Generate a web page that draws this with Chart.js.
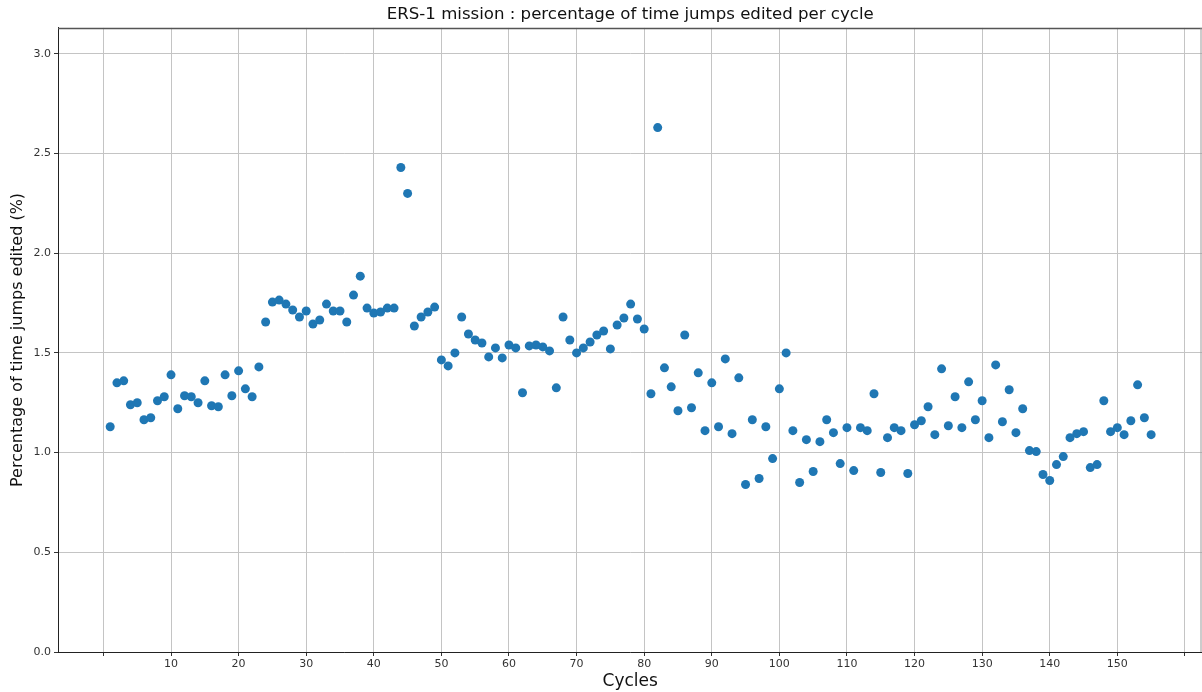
<!DOCTYPE html>
<html>
<head>
<meta charset="utf-8">
<script src="https://cdn.jsdelivr.net/npm/chart.js@4.4.1/dist/chart.umd.min.js"></script>
<style>
  html, body { margin: 0; padding: 0; background: #fff; overflow: hidden; }
  #wrap { width: 1207px; height: 692px; position: relative; }
</style>
</head>
<body>
<div id="wrap"><canvas id="chart"></canvas></div>
<script>
const cycles = [
  1, 2, 3, 4, 5, 6, 7, 8, 9, 10, 11, 12, 13, 14, 15, 16, 17, 18, 19, 20,
  21, 22, 23, 24, 25, 26, 27, 28, 29, 30, 31, 32, 33, 34, 35, 36, 37, 38, 39, 40,
  41, 42, 43, 44, 45, 46, 47, 48, 49, 50, 51, 52, 53, 54, 55, 56, 57, 58, 59, 60,
  61, 62, 63, 64, 65, 66, 67, 68, 69, 70, 71, 72, 73, 74, 75, 76, 77, 78, 79, 80,
  81, 82, 83, 84, 85, 86, 87, 88, 89, 90, 91, 92, 93, 94, 95, 96, 97, 98, 99, 100,
  101, 102, 103, 104, 105, 106, 107, 108, 109, 110, 111, 112, 113, 114, 115, 116, 117, 118, 119, 120,
  121, 122, 123, 124, 125, 126, 127, 128, 129, 130, 131, 132, 133, 134, 135, 136, 137, 138, 139, 140,
  141, 142, 143, 144, 145, 146, 147, 148, 149, 150, 151, 152, 153, 154, 155
];

const percentEdited = [
  1.13, 1.35, 1.36, 1.24, 1.25, 1.165, 1.175, 1.26, 1.28, 1.39,
  1.22, 1.285, 1.28, 1.25, 1.36, 1.235, 1.23, 1.39, 1.285, 1.41,
  1.32, 1.28, 1.43, 1.655, 1.755, 1.765, 1.745, 1.715, 1.68, 1.71,
  1.645, 1.665, 1.745, 1.71, 1.71, 1.655, 1.79, 1.885, 1.725, 1.70,
  1.705, 1.725, 1.725, 2.43, 2.30, 1.635, 1.68, 1.705, 1.73, 1.465,
  1.435, 1.50, 1.68, 1.595, 1.565, 1.55, 1.48, 1.525, 1.475, 1.54,
  1.525, 1.30, 1.535, 1.54, 1.53, 1.51, 1.325, 1.68, 1.565, 1.50,
  1.525, 1.555, 1.59, 1.61, 1.52, 1.64, 1.675, 1.745, 1.67, 1.62,
  1.295, 2.63, 1.425, 1.33, 1.21, 1.59, 1.225, 1.40, 1.11, 1.35,
  1.13, 1.47, 1.095, 1.375, 0.84, 1.165, 0.87, 1.13, 0.97, 1.32,
  1.50, 1.11, 0.85, 1.065, 0.905, 1.055, 1.165, 1.10, 0.945, 1.125,
  0.91, 1.125, 1.11, 1.295, 0.90, 1.075, 1.125, 1.11, 0.895, 1.14,
  1.16, 1.23, 1.09, 1.42, 1.135, 1.28, 1.125, 1.355, 1.165, 1.26,
  1.075, 1.44, 1.155, 1.315, 1.10, 1.22, 1.01, 1.005, 0.89, 0.86,
  0.94, 0.98, 1.075, 1.095, 1.105, 0.925, 0.94, 1.26, 1.105, 1.125,
  1.09, 1.16, 1.34, 1.175, 1.09
];

const xTicks = [0, 10, 20, 30, 40, 50, 60, 70, 80, 90, 100, 110, 120, 130, 140, 150, 160];
const xTickLabels = ["", "10", "20", "30", "40", "50", "60", "70", "80", "90",
  "100", "110", "120", "130", "140", "150", ""];
const yTicks = [0, 0.5, 1.0, 1.5, 2.0, 2.5, 3.0];

const FONT = "'DejaVu Sans', sans-serif";

// matplotlib-like top and right spines
const frameSpines = {
  id: "frameSpines",
  afterDraw(chart) {
    const { ctx, chartArea } = chart;
    ctx.save();
    ctx.strokeStyle = "#555";
    ctx.lineWidth = 1.5;
    ctx.beginPath();
    ctx.moveTo(chartArea.left, chartArea.top + 0.5);
    ctx.lineTo(chartArea.right, chartArea.top + 0.5);
    ctx.stroke();
    ctx.strokeStyle = "#999";
    ctx.lineWidth = 1;
    ctx.beginPath();
    ctx.moveTo(chartArea.right - 1.5, chartArea.top);
    ctx.lineTo(chartArea.right - 1.5, chartArea.bottom);
    ctx.stroke();
    ctx.restore();
  },
};

const points = cycles.map((c, i) => ({ x: c, y: percentEdited[i] }));

new Chart(document.getElementById("chart"), {
  type: "scatter",
  data: {
    datasets: [
      {
        data: points,
        backgroundColor: "#1f77b4",
        borderWidth: 0,
        pointRadius: 4.5,
        pointHoverRadius: 4.5,
      },
    ],
  },
  options: {
    responsive: true,
    maintainAspectRatio: false,
    animation: false,
    layout: { padding: 0 },
    plugins: {
      legend: { display: false },
      tooltip: { enabled: false },
      title: {
        display: true,
        text: "ERS-1 mission : percentage of time jumps edited per cycle",
        color: "#111",
        font: { family: FONT, size: 16.6, weight: "normal" },
        padding: { top: 5, bottom: 3 },
        fullSize: false,
      },
    },
    scales: {
      x: {
        type: "linear",
        min: -6.72,
        max: 162.6,
        afterBuildTicks: (scale) => {
          scale.ticks = xTicks.map((v) => ({ value: v }));
        },
        afterFit: (scale) => {
          scale.height = 40;
        },
        ticks: {
          color: "#333",
          font: { family: FONT, size: 11 },
          padding: 2,
          maxRotation: 0,
          autoSkip: false,
          callback: (value) => {
            const i = xTicks.indexOf(value);
            return i >= 0 ? xTickLabels[i] : "";
          },
        },
        grid: {
          color: "#c4c4c4",
          lineWidth: 1,
          tickColor: "#333",
          tickLength: 4,
        },
        border: { color: "#222", width: 1 },
        title: {
          display: true,
          text: "Cycles",
          color: "#111",
          font: { family: FONT, size: 17 },
          padding: { top: 0, bottom: 0 },
        },
      },
      y: {
        type: "linear",
        min: 0,
        max: 3.13,
        afterBuildTicks: (scale) => {
          scale.ticks = yTicks.map((v) => ({ value: v }));
        },
        afterFit: (scale) => {
          scale.width = 58;
        },
        ticks: {
          color: "#333",
          font: { family: FONT, size: 11 },
          padding: 3,
          callback: (value) => value.toFixed(1),
        },
        grid: {
          color: "#c4c4c4",
          lineWidth: 1,
          tickColor: "#333",
          tickLength: 4,
        },
        border: { color: "#222", width: 1 },
        title: {
          display: true,
          text: "Percentage of time jumps edited (%)",
          color: "#111",
          font: { family: FONT, size: 16 },
          padding: { top: 8, bottom: 0 },
        },
      },
    },
  },
  plugins: [frameSpines],
});
</script>
</body>
</html>
